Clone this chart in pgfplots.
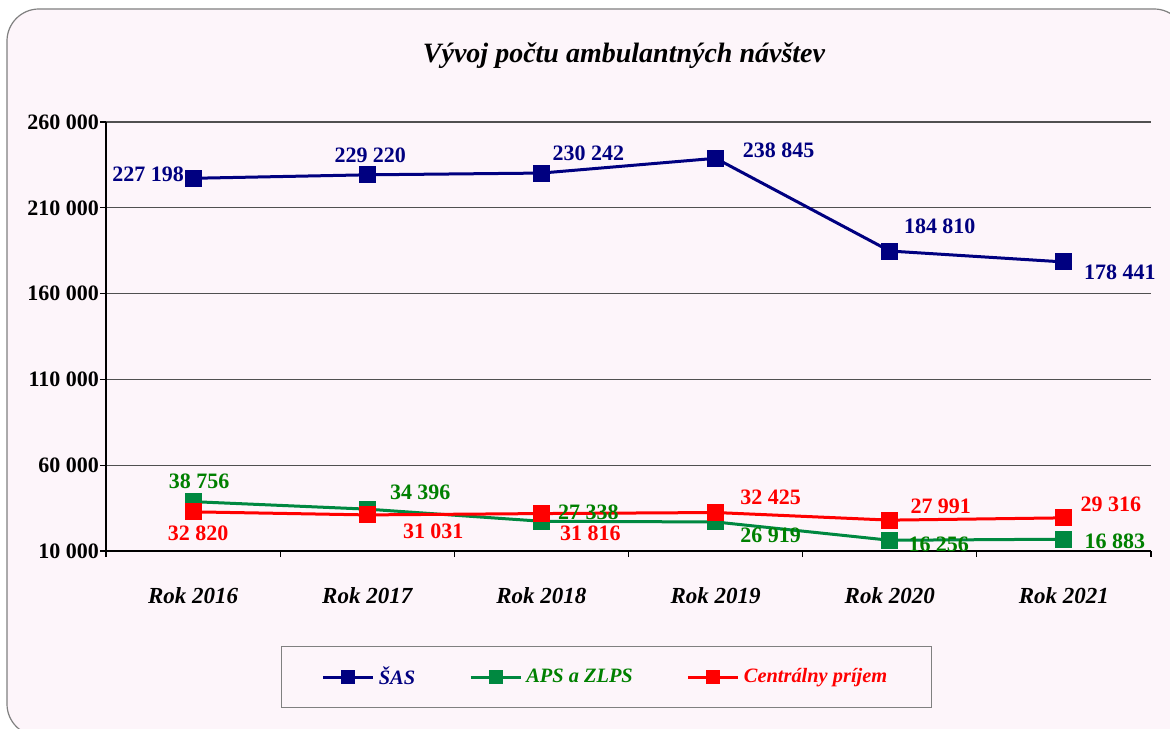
\documentclass[border=0pt]{standalone}
\usepackage{pgfplots}
\pgfplotsset{compat=1.18}
\usepackage{fontspec}
\setmainfont{Liberation Serif}
\definecolor{bgpink}{RGB}{253,245,250}
\definecolor{sasc}{RGB}{0,0,128}
\definecolor{apsl}{RGB}{0,136,64}
\definecolor{apst}{RGB}{0,128,0}
\definecolor{cpc}{RGB}{255,0,0}
\definecolor{gridc}{RGB}{80,80,80}
\begin{document}
\begin{tikzpicture}[lbl/.style={font=\bfseries\fontsize{11}{13}\selectfont, inner sep=0pt}]
\useasboundingbox (0,0) rectangle (585pt,364pt);
\fill[white] (0,0) rectangle (585pt,364pt);
\begin{scope}
\clip (0,0) rectangle (585pt,364pt);
\draw[gray, fill=bgpink, line width=0.6pt, rounded corners=16pt] (3.5pt,-4pt) rectangle (593pt,359.5pt);
\end{scope}
\node[font=\bfseries\itshape\fontsize{14}{16}\selectfont] at (312pt,336pt) {Vývoj počtu ambulantných návštev};
\begin{axis}[
  at={(53pt,88.5pt)}, anchor=south west,
  scale only axis, width=522.5pt, height=214.5pt,
  xmin=-0.5, xmax=5.5, ymin=10000, ymax=260000,
  axis x line=bottom, axis y line=left,
  axis line style={black, line width=0.7pt, -},
  xtick={0,1,2,3,4,5},
  xticklabels={Rok 2016,Rok 2017,Rok 2018,Rok 2019,Rok 2020,Rok 2021},
  minor xtick={-0.5,0.5,1.5,2.5,3.5,4.5,5.5},
  major x tick style={draw=none},
  minor tick length=3pt,
  tick align=outside,
  ytick={10000,60000,110000,160000,210000,260000},
  yticklabels={10 000,60 000,110 000,160 000,210 000,260 000},
  scaled y ticks=false,
  major tick length=3pt,
  tick style={black, line width=0.6pt},
  ymajorgrids, grid style={gridc, line width=0.6pt},
  yticklabel style={font=\bfseries\fontsize{11}{13}\selectfont, xshift=3pt},
  xticklabel style={font=\bfseries\itshape\fontsize{11.5}{13}\selectfont, yshift=-11.5pt},
  clip=false,
  legend columns=3,
  legend style={at={(0.479,-0.294)}, anchor=center, draw=gray, line width=0.6pt, fill=bgpink,
    font=\bfseries\itshape\fontsize{10.2}{12}\selectfont, inner xsep=20pt, inner ysep=8pt,
    /tikz/every even column/.append style={column sep=25pt}},
  legend image code/.code={\draw[mark repeat=2,mark phase=2,mark size=2.8pt] plot coordinates {(0cm,0cm) (0.44cm,0cm) (0.88cm,0cm)};},
]
\addplot[sasc, line width=1.5pt, mark=square*, mark size=3.5pt, mark options={solid}] coordinates {(0,227198) (1,229220) (2,230242) (3,238845) (4,184810) (5,178441)};
\addlegendentry{\textcolor{sasc}{ŠAS}}
\addplot[apsl, line width=1.5pt, mark=square*, mark size=3.5pt] coordinates {(0,38756) (1,34396) (2,27338) (3,26919) (4,16256) (5,16883)};
\addlegendentry{\textcolor{apst}{APS a ZLPS}}
\addplot[cpc, line width=1.5pt, mark=square*, mark size=3.5pt] coordinates {(0,32820) (1,31031) (2,31816) (3,32425) (4,27991) (5,29316)};
\addlegendentry{\textcolor{cpc}{Centrálny príjem}}
% labels ŠAS
\node[lbl,text=sasc] at ([xshift=-22.5pt,yshift=2pt]axis cs:0,227198) {227 198};
\node[lbl,text=sasc] at ([xshift=1.5pt,yshift=9.75pt]axis cs:1,229220) {229 220};
\node[lbl,text=sasc] at ([xshift=23.5pt,yshift=10pt]axis cs:2,230242) {230 242};
\node[lbl,text=sasc] at ([xshift=31.5pt,yshift=4pt]axis cs:3,238845) {238 845};
\node[lbl,text=sasc] at ([xshift=25pt,yshift=12.5pt]axis cs:4,184810) {184 810};
\node[lbl,text=sasc] at ([xshift=28pt,yshift=-5pt]axis cs:5,178441) {178 441};
% labels APS
\node[lbl,text=apst] at ([xshift=3pt,yshift=10pt]axis cs:0,38756) {38 756};
\node[lbl,text=apst] at ([xshift=26.5pt,yshift=8.5pt]axis cs:1,34396) {34 396};
\node[lbl,text=apst] at ([xshift=23.5pt,yshift=4.5pt]axis cs:2,27338) {27 338};
\node[lbl,text=apst] at ([xshift=27.5pt,yshift=-6.5pt]axis cs:3,26919) {26 919};
\node[lbl,text=apst] at ([xshift=24.5pt,yshift=-2pt]axis cs:4,16256) {16 256};
\node[lbl,text=apst] at ([xshift=25.5pt,yshift=-1pt]axis cs:5,16883) {16 883};
% labels Centralny
\node[lbl,text=cpc] at ([xshift=2.5pt,yshift=-10.5pt]axis cs:0,32820) {32 820};
\node[lbl,text=cpc] at ([xshift=33pt,yshift=-8pt]axis cs:1,31031) {31 031};
\node[lbl,text=cpc] at ([xshift=24.5pt,yshift=-10pt]axis cs:2,31816) {31 816};
\node[lbl,text=cpc] at ([xshift=27.5pt,yshift=7.5pt]axis cs:3,32425) {32 425};
\node[lbl,text=cpc] at ([xshift=25.5pt,yshift=7pt]axis cs:4,27991) {27 991};
\node[lbl,text=cpc] at ([xshift=23.5pt,yshift=6.75pt]axis cs:5,29316) {29 316};
\end{axis}
\end{tikzpicture}
\end{document}
